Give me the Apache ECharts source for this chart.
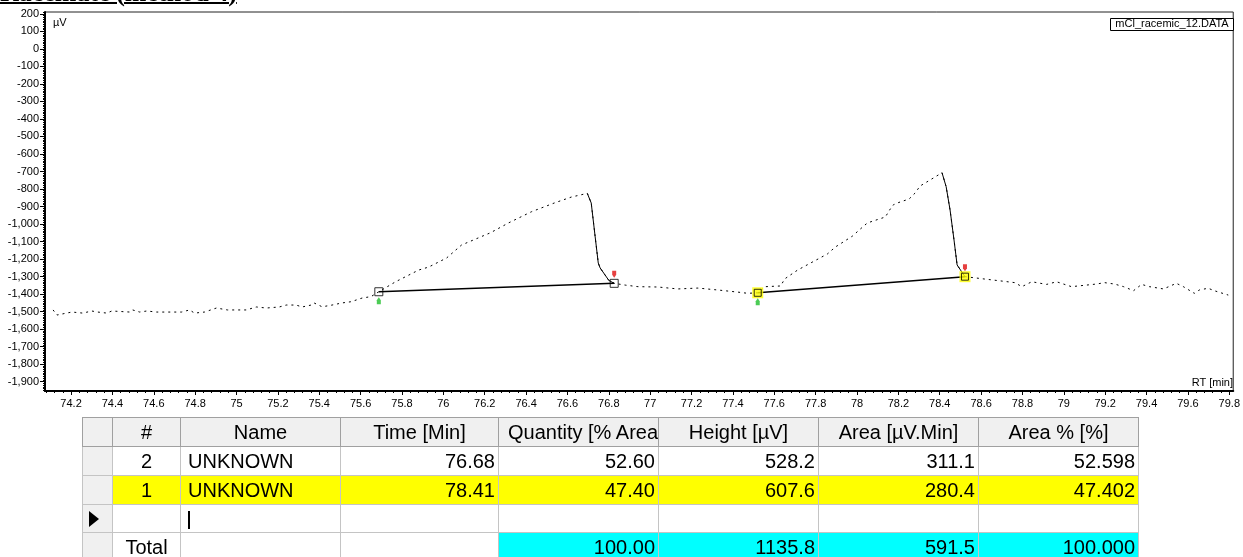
<!DOCTYPE html>
<html>
<head>
<meta charset="utf-8">
<script src="https://cdn.jsdelivr.net/npm/echarts@6/dist/echarts.min.js"></script>
<style>
  html, body { margin:0; padding:0; background:#fff; width:1243px; height:557px; overflow:hidden; }
  #chart { position:absolute; left:0; top:0; width:1243px; height:557px; }
  #title { position:absolute; left:0; top:-20.5px; font-family:'Liberation Serif','Times New Roman',serif; font-weight:bold; font-size:26px; line-height:26px; white-space:nowrap; text-decoration:underline; text-decoration-thickness:1.5px; text-underline-offset:1px; color:#000; }
  #tbl { position:absolute; left:82px; top:417px; border-collapse:collapse; table-layout:fixed; width:1056px;
         font-family:'Liberation Sans',Arial,sans-serif; font-size:20px; color:#000; }
  #tbl td, #tbl th { border:1px solid #c4c4c4; padding:0 3px; overflow:hidden; white-space:nowrap; font-weight:normal; line-height:20px; }
  #tbl th { background:#f0f0f0; text-align:center; border-color:#a0a0a0; }
  #tbl th.q { text-align:left; padding-left:9px; }
  #tbl td.sel { background:#f0f0f0; position:relative; }
  #tbl td.c { text-align:center; }
  #tbl td.l { text-align:left; padding-left:7px; }
  #tbl td.r { text-align:right; }
  #tbl tr.hl td:not(.sel) { background:#ffff00; }
  #tbl td.cy { background:#00ffff; }
  .arrow { position:absolute; left:6px; top:6px; width:0; height:0; border-left:10px solid #000; border-top:8px solid transparent; border-bottom:8px solid transparent; }
  .caret { display:inline-block; width:2px; height:18px; background:#000; vertical-align:middle; }
</style>
</head>
<body>
<div id="chart"></div>
<div id="title">Racemate (method 4)</div>
<table id="tbl"></table>
<script>
// ---------- data ----------
const xTicks = [74.2, 74.4, 74.6, 74.8, 75, 75.2, 75.4, 75.6, 75.8, 76, 76.2, 76.4, 76.6, 76.8, 77,
                77.2, 77.4, 77.6, 77.8, 78, 78.2, 78.4, 78.6, 78.8, 79, 79.2, 79.4, 79.6, 79.8];
const yTicks = [200, 100, 0, -100, -200, -300, -400, -500, -600, -700, -800, -900, -1000,
                -1100, -1200, -1300, -1400, -1500, -1600, -1700, -1800, -1900];

const baselineStart = [[74.113,-1491],[74.132,-1520],[74.204,-1503],[74.257,-1509],[74.300,-1497],[74.329,-1503],
  [74.373,-1509],[74.397,-1497],[74.484,-1503],[74.498,-1491],[74.532,-1503],[74.566,-1497],[74.614,-1503],
  [74.691,-1503],[74.734,-1503],[74.773,-1491],[74.797,-1509],[74.845,-1503],[74.903,-1480],[74.956,-1491],
  [74.999,-1491],[75.047,-1491],[75.096,-1474],[75.144,-1480],[75.207,-1474],[75.240,-1463],[75.288,-1463],
  [75.317,-1474],[75.361,-1463],[75.375,-1451],[75.414,-1473],[75.462,-1463],[75.510,-1451],[75.554,-1444],
  [75.607,-1423],[75.650,-1415]];
const peakARise = [[75.688,-1387],[75.769,-1330],[75.881,-1263],[75.929,-1246],[76.016,-1194],[76.088,-1120],
  [76.228,-1050],[76.315,-994],[76.426,-930],[76.541,-878],[76.619,-846],[76.696,-825]];
const peakAFall = [[76.696,-825],[76.715,-880],[76.734,-1073],[76.749,-1223],[76.758,-1251],[76.800,-1322],[76.826,-1339]];
const between = [[76.879,-1349],[76.941,-1358],[77.038,-1360],[77.134,-1371],[77.231,-1366],[77.327,-1377],
  [77.423,-1389],[77.472,-1396]];
const peakBRise = [[77.520,-1393],[77.558,-1358],[77.631,-1354],[77.650,-1314],[77.713,-1263],[77.857,-1171],
  [77.896,-1131],[77.978,-1069],[78.011,-1034],[78.050,-994],[78.137,-960],[78.161,-914],[78.180,-886],
  [78.252,-857],[78.281,-823],[78.305,-783],[78.353,-749],[78.411,-707]];
const peakBFall = [[78.411,-707],[78.431,-787],[78.450,-920],[78.469,-1091],[78.484,-1234],[78.522,-1301]];
const tail = [[78.566,-1307],[78.614,-1314],[78.686,-1324],[78.763,-1335],[78.797,-1358],[78.845,-1330],
  [78.917,-1345],[78.965,-1330],[79.037,-1358],[79.158,-1343],[79.197,-1335],[79.245,-1343],[79.289,-1358],
  [79.337,-1381],[79.376,-1345],[79.414,-1358],[79.482,-1371],[79.544,-1339],[79.578,-1358],[79.631,-1396],
  [79.655,-1377],[79.698,-1367],[79.727,-1381],[79.795,-1406]];

const peakStarts = [[75.688,-1387],[77.520,-1393]];
const peakEnds   = [[76.826,-1339],[78.522,-1301]];

// table
const tblHeaders = ['#', 'Name', 'Time [Min]', 'Quantity [% Area]', 'Height [µV]', 'Area [µV.Min]', 'Area % [%]'];
const tblIds     = ['2', '1'];
const tblNames   = ['UNKNOWN', 'UNKNOWN'];
const tblTimes   = ['76.68', '78.41'];
const tblQty     = ['52.60', '47.40'];
const tblHeight  = ['528.2', '607.6'];
const tblArea    = ['311.1', '280.4'];
const tblAreaPct = ['52.598', '47.402'];
const tblTotals  = ['100.00', '1135.8', '591.5', '100.000'];

// ---------- chart ----------
const X_MIN = 74.074, X_MAX = 79.819, Y_MIN = -1954, Y_MAX = 211;
const minorX = []; for (let i = 1852; i <= 1995; i++) minorX.push(Math.round(i * 4) / 100);
const minorY = []; for (let v = -1950; v <= 210; v += 10) minorY.push(v);

function fmtY(v) {
  const n = Math.round(v), s = String(Math.abs(n)).replace(/\B(?=(\d{3})+(?!\d))/g, ',');
  return (n < 0 ? '-' : '') + s;
}
function fmtX(v) { return String(Math.round(v * 10) / 10); }

const trace = [].concat(baselineStart, peakARise, peakAFall, between, peakBRise, peakBFall, tail);
const chart = echarts.init(document.getElementById('chart'), null, { renderer: 'canvas' });
const lbl = { fontFamily: 'Liberation Sans, Arial, sans-serif', fontSize: 11, color: '#000' };

const redPin = 'path://M0,0 L4,0 L4,4 L2,7 L0,4 Z';
const greenPin = 'path://M2,0 L4,3 L4,7 L0,7 L0,3 Z';

chart.setOption({
  animation: false,
  grid: { left: 45, top: 12, width: 1192, height: 379, show: true, borderColor: '#222', borderWidth: 1, backgroundColor: 'transparent' },
  xAxis: [
    { type: 'value', min: X_MIN, max: X_MAX, position: 'bottom',
      axisLine: { show: true, onZero: false, lineStyle: { color: '#000', width: 2 } },
      axisTick: { show: true, length: 4, customValues: xTicks, lineStyle: { color: '#000' } },
      axisLabel: Object.assign({ customValues: xTicks, formatter: fmtX, margin: 7 }, lbl),
      splitLine: { show: false } },
    { type: 'value', min: X_MIN, max: X_MAX, position: 'bottom',
      axisLine: { show: false, onZero: false },
      axisTick: { show: true, length: 2, customValues: minorX, lineStyle: { color: '#000' } },
      axisLabel: { show: false }, splitLine: { show: false } }
  ],
  yAxis: [
    { type: 'value', min: Y_MIN, max: Y_MAX, position: 'left',
      axisLine: { show: true, onZero: false, lineStyle: { color: '#000', width: 2 } },
      axisTick: { show: true, length: 5, customValues: yTicks, lineStyle: { color: '#000' } },
      axisLabel: Object.assign({ customValues: yTicks, formatter: fmtY, margin: 6 }, lbl),
      splitLine: { show: false } },
    { type: 'value', min: Y_MIN, max: Y_MAX, position: 'left',
      axisLine: { show: false, onZero: false },
      axisTick: { show: true, length: 2, customValues: minorY, lineStyle: { color: '#000' } },
      axisLabel: { show: false }, splitLine: { show: false } }
  ],
  graphic: [
    { type: 'text', left: 53, top: 17, style: { text: 'µV', font: '11px "Liberation Sans", Arial', fill: '#000' } },
    { type: 'text', right: 10, top: 377, style: { text: 'RT [min]', font: '11px "Liberation Sans", Arial', fill: '#000' } },
    { type: 'rect', shape: { x: 1110.5, y: 18.5, width: 123, height: 12 }, style: { fill: '#fff', stroke: '#000', lineWidth: 1 } },
    { type: 'text', x: 1172, y: 23.5, style: { text: 'mCl_racemic_12.DATA', font: '11px "Liberation Sans", Arial', fill: '#000', align: 'center', verticalAlign: 'middle' } }
  ],
  series: [
    { type: 'line', data: trace, showSymbol: false, symbol: 'none', silent: true, z: 2,
      lineStyle: { color: '#000', width: 1, type: [2, 4] } },
    { type: 'line', data: peakAFall, showSymbol: false, symbol: 'none', z: 2, lineStyle: { color: '#000', width: 1 } },
    { type: 'line', data: peakBFall, showSymbol: false, symbol: 'none', z: 2, lineStyle: { color: '#000', width: 1 } },
    { type: 'line', data: [peakStarts[0], peakEnds[0]], showSymbol: false, symbol: 'none', z: 3, lineStyle: { color: '#000', width: 1.5 } },
    { type: 'line', data: [peakStarts[1], peakEnds[1]], showSymbol: false, symbol: 'none', z: 3, lineStyle: { color: '#000', width: 1.5 } },
    { type: 'scatter', data: [peakStarts[0], peakEnds[0]], symbol: 'rect', symbolSize: 8, z: 5,
      itemStyle: { color: 'rgba(255,255,255,0)', borderColor: '#000', borderWidth: 1 } },
    { type: 'scatter', data: [peakStarts[1], peakEnds[1]], symbol: 'rect', symbolSize: 11, z: 5,
      itemStyle: { color: '#ffff00' } },
    { type: 'scatter', data: [peakStarts[1], peakEnds[1]], symbol: 'rect', symbolSize: 7, z: 6,
      itemStyle: { color: 'rgba(255,255,255,0)', borderColor: '#000', borderWidth: 1 } },
    { type: 'scatter', data: peakStarts, symbol: greenPin, symbolSize: [4, 7], symbolOffset: [0, 9], z: 6,
      itemStyle: { color: '#1fbf2a' } },
    { type: 'scatter', data: peakEnds, symbol: redPin, symbolSize: [4, 7], symbolOffset: [0, -9], z: 6,
      itemStyle: { color: '#e01010' } }
  ]
});

// ---------- table ----------
const colW = [30, 68, 160, 158, 160, 160, 160, 160];
let html = '<colgroup>' + colW.map(w => '<col style="width:' + w + 'px">').join('') + '</colgroup>';
html += '<tr style="height:29px"><th></th>' + tblHeaders.map((h, i) => '<th' + (i === 3 ? ' class="q"' : '') + '>' + h + '</th>').join('') + '</tr>';
for (let i = 0; i < tblIds.length; i++) {
  html += '<tr style="height:29px"' + (i === 1 ? ' class="hl"' : '') + '><td class="sel"></td>' +
    '<td class="c">' + tblIds[i] + '</td><td class="l">' + tblNames[i] + '</td>' +
    '<td class="r">' + tblTimes[i] + '</td><td class="r">' + tblQty[i] + '</td>' +
    '<td class="r">' + tblHeight[i] + '</td><td class="r">' + tblArea[i] + '</td>' +
    '<td class="r">' + tblAreaPct[i] + '</td></tr>';
}
html += '<tr style="height:28px"><td class="sel"><div class="arrow"></div></td><td></td><td class="l"><span class="caret"></span></td><td></td><td></td><td></td><td></td><td></td></tr>';
html += '<tr style="height:28px"><td class="sel"></td><td class="c">Total</td><td></td><td></td>' +
  tblTotals.map(t => '<td class="r cy">' + t + '</td>').join('') + '</tr>';
document.getElementById('tbl').innerHTML = html;
</script>
</body>
</html>
